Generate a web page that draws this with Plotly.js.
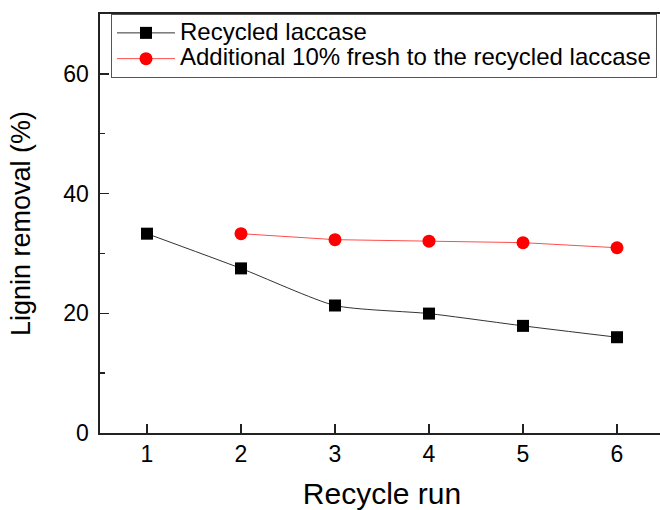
<!DOCTYPE html>
<html>
<head>
<meta charset="utf-8">
<script src="https://cdn.plot.ly/plotly-3.0.1.min.js"></script>
<style>html,body{margin:0;padding:0;background:#fff;overflow:hidden;width:660px;height:510px;}#chart{width:664px;height:510px;}</style>
</head>
<body>
<div id="chart"></div>
<script>
const runsRecycled = [1, 2, 3, 4, 5, 6];
const removalRecycled = [33.3, 27.5, 21.3, 19.95, 17.9, 16.0];
const runsFresh = [2, 3, 4, 5, 6];
const removalFresh = [33.3, 32.3, 32.05, 31.8, 30.95];
const seriesNames = ['Recycled laccase', 'Additional 10% fresh to the recycled laccase'];
const yTicks = [0, 20, 40, 60];
const xTicks = [1, 2, 3, 4, 5, 6];

const font = 'Arial, "Liberation Sans", sans-serif';
const legendName = s => '<span style="font-size:24px">' + s + '</span>';

const traces = [
  {
    x: runsRecycled, y: removalRecycled, name: legendName(seriesNames[0]),
    type: 'scatter', mode: 'lines+markers',
    line: {color: '#333333', width: 1, shape: 'spline', smoothing: 0.6},
    marker: {symbol: 'square', size: 12, color: '#000000'}
  },
  {
    x: runsFresh, y: removalFresh, name: legendName(seriesNames[1]),
    type: 'scatter', mode: 'lines+markers',
    line: {color: '#ff4d4d', width: 1},
    marker: {symbol: 'circle', size: 13, color: '#ff0000'}
  }
];

const layout = {
  width: 664, height: 510,
  margin: {l: 100, r: 0, t: 14, b: 77},
  paper_bgcolor: '#ffffff', plot_bgcolor: '#ffffff',
  font: {family: font, color: '#000000', size: 23},
  showlegend: true,
  legend: {
    x: 0.0195, xanchor: 'left', y: 1, yanchor: 'top',
    bordercolor: '#555555', borderwidth: 1, bgcolor: '#ffffff',
    font: {family: font, size: 17.5, color: '#000000'},
    itemwidth: 58, indentation: 0, tracegroupgap: 0
  },
  xaxis: {
    range: [0.5, 6.5], tickvals: xTicks, ticktext: xTicks.map(String),
    ticks: 'inside', ticklen: 9, tickwidth: 1.5, tickcolor: '#222222',
    showline: true, linecolor: '#222222', linewidth: 1.6, mirror: true,
    showgrid: false, zeroline: false,
    tickfont: {family: font, size: 23},
    title: {text: 'Recycle run', font: {family: font, size: 30}, standoff: 18}
  },
  yaxis: {
    range: [0, 70], tickvals: yTicks, ticktext: yTicks.map(String),
    ticks: 'inside', ticklen: 9, tickwidth: 1.5, tickcolor: '#222222',
    minor: {dtick: 10, ticks: 'inside', ticklen: 5, tickwidth: 1.5, tickcolor: '#222222'},
    showline: true, linecolor: '#222222', linewidth: 1.6, mirror: false,
    showgrid: false, zeroline: false,
    tickfont: {family: font, size: 23},
    ticklabelstandoff: 5,
    title: {text: 'Lignin removal (%)', font: {family: font, size: 27}, standoff: 25}
  }
};

Plotly.newPlot('chart', traces, layout, {displayModeBar: false, staticPlot: true});
</script>
</body>
</html>
